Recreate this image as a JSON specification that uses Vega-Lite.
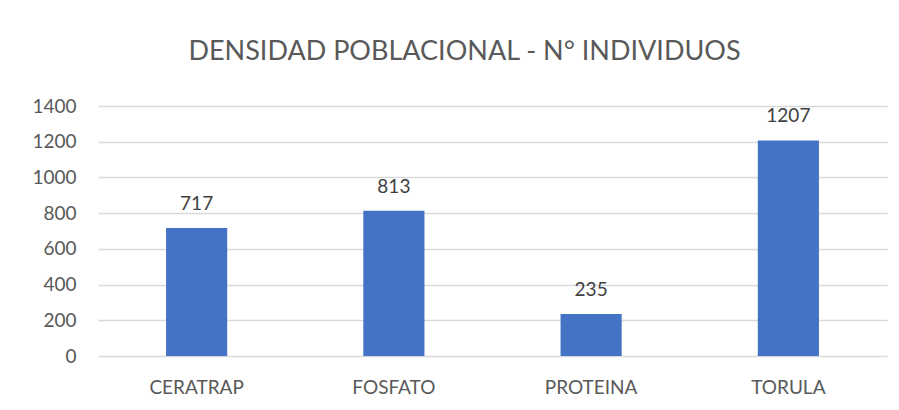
{
  "$schema": "https://vega.github.io/schema/vega-lite/v6.json",
  "width": 789,
  "height": 250,
  "padding": {"left": 31, "top": 38, "right": 10, "bottom": 5},
  "background": "white",
  "config": {"view": {"stroke": null}, "font": "Lato"},
  "title": {
    "text": "DENSIDAD POBLACIONAL - N° INDIVIDUOS",
    "fontSize": 27,
    "fontWeight": "normal",
    "color": "#595959",
    "anchor": "middle",
    "dx": -28,
    "offset": 31
  },
  "data": {
    "values": [
      {"categoria": "CERATRAP", "valor": 717},
      {"categoria": "FOSFATO", "valor": 813},
      {"categoria": "PROTEINA", "valor": 235},
      {"categoria": "TORULA", "valor": 1207}
    ]
  },
  "encoding": {
    "x": {
      "field": "categoria",
      "type": "nominal",
      "sort": null,
      "scale": {"paddingInner": 0.69, "paddingOuter": 0.345},
      "axis": {
        "title": null,
        "labelAngle": 0,
        "labelFontSize": 19,
        "labelColor": "#595959",
        "labelPadding": 22,
        "ticks": false,
        "domain": false,
        "grid": false
      }
    },
    "y": {
      "field": "valor",
      "type": "quantitative",
      "scale": {"domain": [0, 1400], "nice": false},
      "axis": {
        "title": null,
        "format": "d",
        "values": [0, 200, 400, 600, 800, 1000, 1200, 1400],
        "labelFontSize": 19,
        "labelColor": "#595959",
        "labelPadding": 22,
        "ticks": false,
        "domain": false,
        "gridColor": "#d9d9d9",
        "gridWidth": 1.5
      }
    }
  },
  "layer": [
    {"mark": {"type": "bar", "color": "#4472C4"}},
    {
      "mark": {"type": "text", "baseline": "bottom", "dy": -14, "fontSize": 19, "color": "#404040"},
      "encoding": {"text": {"field": "valor", "type": "quantitative", "format": "d"}}
    }
  ]
}
